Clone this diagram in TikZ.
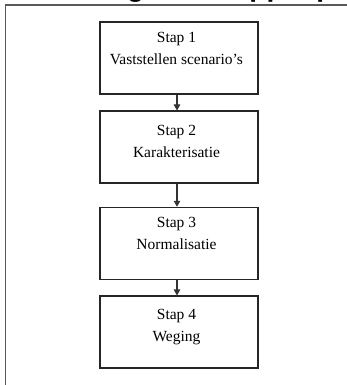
\documentclass[tikz,border=0pt]{standalone}
\usepackage{fontspec}
\setmainfont{Liberation Serif}
\newfontfamily\headfont{Liberation Sans}
\usetikzlibrary{arrows.meta}
\tikzset{
  stepbox/.style={draw=black!85, line width=1.1pt, minimum width=158pt, minimum height=72pt, inner sep=0pt},
  steptext/.style={align=center, font=\fontsize{15.5}{22}\selectfont, inner sep=0pt},
  arr/.style={draw=black!80, line width=1.1pt, -{Triangle[width=6.5pt,length=6pt]}},
  frame/.style={draw=black!65, line width=1.6pt}
}
\begin{document}
\begin{tikzpicture}[x=1pt,y=-1pt]
\useasboundingbox (0,0) rectangle (347,385);
\begin{scope}
\clip (0,0) rectangle (347,385);
\node[anchor=base west, inner sep=0pt, font=\headfont\bfseries\fontsize{28}{30}\selectfont] (head) at (102,-3) {Figuur: stappenplan};
\end{scope}
\coordinate (ftr) at (347,5);
\coordinate (ftl) at (5.5,5);
\coordinate (fbl) at (5.5,385);
\draw[frame] (ftr) -- (ftl) -- (fbl);
\node[stepbox] (b1) at (179,58) {};
\node[stepbox] (b2) at (179,147) {};
\node[stepbox] (b3) at (179,243.3) {};
\node[stepbox] (b4) at (179,332) {};
\node[steptext] (t1) at (176.5,48) {Stap 1\\Vaststellen scenario's};
\node[steptext] (t2) at (176.5,141) {Stap 2\\Karakterisatie};
\node[steptext] (t3) at (176.5,233.4) {Stap 3\\Normalisatie};
\node[steptext] (t4) at (176.5,327) {Stap 4\\Weging};
\draw[arr] ([xshift=-2pt]b1.south) -- ([xshift=-2pt]b2.north);
\draw[arr] ([xshift=-2pt]b2.south) -- ([xshift=-2pt]b3.north);
\draw[arr] ([xshift=-2pt]b3.south) -- ([xshift=-2pt]b4.north);
\end{tikzpicture}
\end{document}
